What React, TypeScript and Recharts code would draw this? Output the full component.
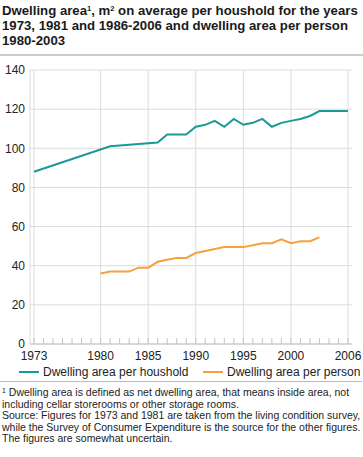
import * as React from 'react';
import {
    LineChart,
    Line,
    XAxis,
    YAxis,
    CartesianGrid,
    ReferenceLine
} from 'recharts';

// household series: 1973, 1981 and 1986-2006
const householdYears = [1973, 1981, 1986, 1987, 1988, 1989, 1990, 1991, 1992, 1993, 1994, 1995, 1996, 1997, 1998, 1999, 2000, 2001, 2002, 2003, 2004, 2005, 2006];
const householdValues = [88, 101, 103, 107, 107, 107, 111, 112, 114, 111, 115, 112, 113, 115, 111, 113, 114, 115, 116.5, 119, 119, 119, 119];

// per person series: 1980-2003
const personYears = [1980, 1981, 1982, 1983, 1984, 1985, 1986, 1987, 1988, 1989, 1990, 1991, 1992, 1993, 1994, 1995, 1996, 1997, 1998, 1999, 2000, 2001, 2002, 2003];
const personValues = [36, 37, 37, 37, 39, 39, 42, 43, 44, 44, 46.5, 47.5, 48.5, 49.5, 49.5, 49.5, 50.5, 51.5, 51.5, 53.5, 51.5, 52.5, 52.5, 54.5];

const majorYears = [1973, 1980, 1985, 1990, 1995, 2000, 2006];
const minorYears = Array.from({ length: 34 }, (_, i) => 1973 + i);
const yTicks = [0, 20, 40, 60, 80, 100, 120, 140];

const seriesNames = ['Dwelling area per houshold', 'Dwelling area per person'];

const colors = {
    teal: '#1a9a96',
    orange: '#f7a03f',
    grid: '#dcdcdc',
    axis: '#c4c4c4',
    text: '#222222'
};

const font = '"Liberation Sans", Arial, sans-serif';

const householdData = householdYears.map((year, i) => ({ year, value: householdValues[i] }));
const personData = personYears.map((year, i) => ({ year, value: personValues[i] }));

const YearTick = (props: any) => {
    const { x, y, payload } = props;
    const major = majorYears.indexOf(payload.value) >= 0;
    return (
        <g>
            <line x1={x} x2={x} y1={y} y2={y - 6} stroke={colors.axis} strokeWidth={1} />
            {major && (
                <text x={x} y={y + 16} textAnchor='middle' fontSize={12} fill={colors.text} fontFamily={font}>
                    {payload.value}
                </text>
            )}
        </g>
    );
};

const LegendItem = ({ color, label, left }: { color: string; label: string; left: number }) => (
    <div style={{ position: 'absolute', left, top: 364, height: 16, display: 'flex', alignItems: 'center' }}>
        <div style={{ width: 20, height: 2, background: color, marginRight: 4 }} />
        <span style={{ fontSize: 12, color: colors.text, whiteSpace: 'nowrap' }}>{label}</span>
    </div>
);

const sup = { fontSize: 7.5, verticalAlign: 'top', lineHeight: '10px' };

export default function App() {
    return (
        <div style={{ position: 'absolute', left: 0, top: 0, width: 363, height: 457, fontFamily: font, background: '#fff' }}>
            <div style={{ position: 'absolute', left: 2, top: 4, width: 361, fontSize: 13.2, fontWeight: 'bold', lineHeight: '14.8px', color: '#1a1a1a', whiteSpace: 'nowrap' }}>
                Dwelling area<sup style={sup}>1</sup>, m<sup style={sup}>2</sup> on average per houshold for the years<br />
                1973, 1981 and 1986-2006 and dwelling area per person<br />
                1980-2003
            </div>
            <div style={{ position: 'absolute', left: 0, top: 54, width: 363, height: 2, background: '#cccccc' }} />

            <div style={{ position: 'absolute', left: 0, top: 0 }}>
                <LineChart width={363} height={364} margin={{ top: 70, right: 11, left: 0, bottom: 0 }}>
                    <CartesianGrid vertical={false} stroke={colors.grid} />
                    {majorYears.map(year => (
                        <ReferenceLine key={year} x={year} stroke={colors.grid} strokeWidth={1} />
                    ))}
                    <XAxis
                        dataKey='year'
                        type='number'
                        domain={[1973, 2006]}
                        ticks={minorYears}
                        interval={0}
                        padding={{ left: 4, right: 4 }}
                        height={20}
                        tickSize={0}
                        tickMargin={0}
                        tickLine={false}
                        axisLine={{ stroke: colors.axis }}
                        tick={<YearTick />}
                        allowDuplicatedCategory={false}
                    />
                    <YAxis
                        domain={[0, 140]}
                        ticks={yTicks}
                        width={30}
                        tickSize={0}
                        tickMargin={5}
                        tickLine={false}
                        axisLine={{ stroke: colors.grid }}
                        tick={{ fontSize: 12, fill: colors.text, fontFamily: font }}
                    />
                    <Line
                        data={householdData}
                        dataKey='value'
                        name={seriesNames[0]}
                        type='linear'
                        stroke={colors.teal}
                        strokeWidth={2}
                        dot={false}
                        isAnimationActive={false}
                    />
                    <Line
                        data={personData}
                        dataKey='value'
                        name={seriesNames[1]}
                        type='linear'
                        stroke={colors.orange}
                        strokeWidth={2}
                        dot={false}
                        isAnimationActive={false}
                    />
                </LineChart>
            </div>

            <LegendItem color={colors.teal} label={seriesNames[0]} left={19} />
            <LegendItem color={colors.orange} label={seriesNames[1]} left={203} />
            <div style={{ position: 'absolute', left: 0, top: 381, width: 362, height: 1, background: '#bbbbbb' }} />

            <div style={{ position: 'absolute', left: 2, top: 387, fontSize: 10.5, lineHeight: '11.6px', color: colors.text, whiteSpace: 'nowrap' }}>
                <sup style={{ fontSize: 7, verticalAlign: 'top', lineHeight: '8px' }}>1</sup> Dwelling area is defined as net dwelling area, that means inside area, not<br />
                including cellar storerooms or other storage rooms.<br />
                Source: Figures for 1973 and 1981 are taken from the living condition survey,<br />
                while the Survey of Consumer Expenditure is the source for the other figures.<br />
                The figures are somewhat uncertain.
            </div>
        </div>
    );
}
